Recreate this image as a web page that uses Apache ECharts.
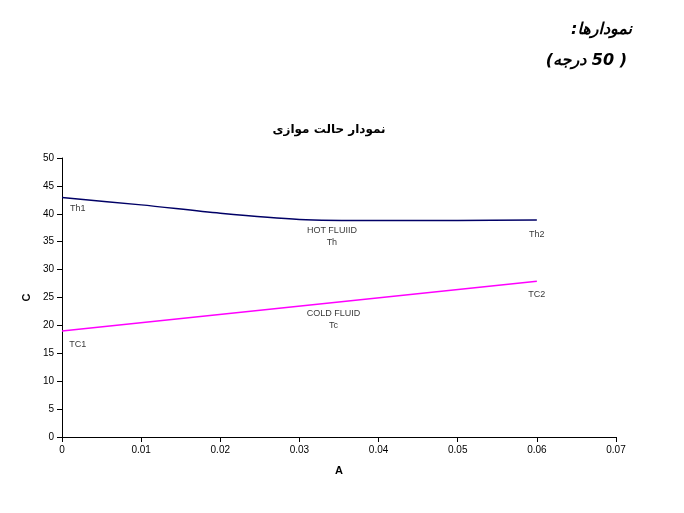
<!DOCTYPE html>
<html><head><meta charset="utf-8">
<script src="https://cdn.jsdelivr.net/npm/echarts@6/dist/echarts.min.js"></script>
<style>html,body{margin:0;background:#fff}#c{width:684px;height:513px}</style>
</head><body><div id="c"></div>
<script>
// hot and cold fluid temperatures along the exchanger
const hotX = [0, 0.01, 0.02, 0.03, 0.04, 0.05, 0.06];
const hotY = [42.9, 41.6, 40.1, 39.0, 38.8, 38.8, 38.9];
const coldX = [0, 0.06];
const coldY = [19, 27.9];
const notes = [
  ['Th1', 0.002, 41.0], ['HOT FLUIID\nTh', 0.0341, 36], ['Th2', 0.06, 36.2],
  ['TC1', 0.002, 16.5], ['COLD FLUID\nTc', 0.0343, 21.1], ['TC2', 0.06, 25.6]
];

const chart = echarts.init(document.getElementById('c'));
const f = 'Liberation Sans, Arial, sans-serif';
chart.setOption({
  animation: false,
  graphic: [
    {type: 'text', right: 52, top: 22, style: {text: '\u202Bنمودارها:\u202C', font: 'italic bold 16px "DejaVu Sans"', fill: '#000'}},
    {type: 'text', right: 57, top: 53, style: {text: '\u202B( 50 درجه)\u202C', font: 'italic bold 16px "DejaVu Sans"', fill: '#000'}},
    {type: 'text', x: 329, y: 124, style: {text: '\u202Bنمودار حالت موازی\u202C', font: 'bold 12px "DejaVu Sans"', fill: '#000', align: 'center'}}
  ],
  grid: {left: 62, right: 68, top: 158, bottom: 76},
  xAxis: {
    type: 'value', min: 0, max: 0.07, interval: 0.01, name: 'A', nameLocation: 'middle', nameGap: 28,
    nameTextStyle: {fontFamily: f, fontWeight: 'bold', fontSize: 11, color: '#000'},
    axisLine: {lineStyle: {color: '#000'}}, axisTick: {lineStyle: {color: '#000'}},
    axisLabel: {fontFamily: f, fontSize: 10, color: '#000'}, splitLine: {show: false}
  },
  yAxis: {
    type: 'value', min: 0, max: 50, interval: 5, name: 'C', nameLocation: 'middle', nameGap: 26,
    nameTextStyle: {fontFamily: f, fontWeight: 'bold', fontSize: 11, color: '#000'},
    axisLine: {show: true, lineStyle: {color: '#000'}}, axisTick: {show: true, lineStyle: {color: '#000'}},
    axisLabel: {fontFamily: f, fontSize: 10, color: '#000'}, splitLine: {show: false}
  },
  series: [
    {type: 'line', data: hotX.map((x, i) => [x, hotY[i]]), smooth: 0.3, symbol: 'none',
     lineStyle: {color: '#000066', width: 1.5}},
    {type: 'line', data: coldX.map((x, i) => [x, coldY[i]]), symbol: 'none',
     lineStyle: {color: '#ff00ff', width: 1.5}},
    {type: 'scatter', symbolSize: 0, data: notes.map(n => ({value: [n[1], n[2]], name: n[0]})),
     label: {show: true, position: 'inside', formatter: p => p.name, fontFamily: f, fontSize: 9, color: '#000', lineHeight: 12}}
  ]
});
</script></body></html>
